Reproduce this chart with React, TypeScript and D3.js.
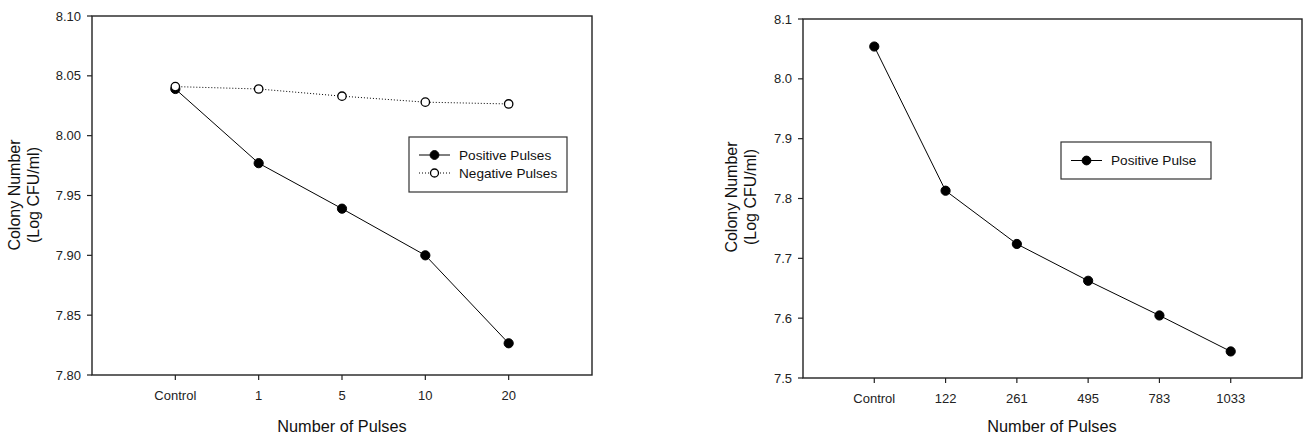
import React from "react";
import * as d3 from "d3";

const leftCategories = ["Control", "1", "5", "10", "20"];
const positivePulses = [8.039, 7.977, 7.939, 7.9, 7.8265];
const negativePulses = [8.041, 8.039, 8.033, 8.028, 8.0265];
const leftYTicks = [7.8, 7.85, 7.9, 7.95, 8.0, 8.05, 8.1];

const rightCategories = ["Control", "122", "261", "495", "783", "1033"];
const positivePulse = [8.054, 7.813, 7.724, 7.6625, 7.6045, 7.5444];
const rightYTicks = [7.5, 7.6, 7.7, 7.8, 7.9, 8.0, 8.1];

const FONT = "'Liberation Sans', Arial, sans-serif";

type Series = { values: number[]; filled: boolean; dotted: boolean; label: string };

function Panel(props: {
  x0: number; x1: number; y0: number; y1: number;
  categories: string[]; yDomain: [number, number]; yTicks: number[]; yFmt: string;
  series: Series[];
  legend: { x0: number; y0: number; w: number; h: number };
  titleX: number; yTitleX: number; yTitleY: number; yLabelX: number;
}) {
  const { x0, x1, y0, y1, categories, yDomain, yTicks, yFmt, series, legend } = props;
  const x = d3.scaleLinear().domain([-1, categories.length]).range([x0, x1]);
  const y = d3.scaleLinear().domain(yDomain).range([y1, y0]);
  const fmt = d3.format(yFmt);
  const line = d3.line<number>().x((_, i) => x(i)).y((v) => y(v));
  const axisColor = "#222";
  return (
    <g>
      <rect x={x0} y={y0} width={x1 - x0} height={y1 - y0} fill="none" stroke={axisColor} strokeWidth={1.4} />
      {yTicks.map((t) => (
        <g key={t}>
          <line x1={x0 - 5} x2={x0} y1={y(t)} y2={y(t)} stroke={axisColor} strokeWidth={1.2} />
          <text x={props.yLabelX} y={y(t)} dy="0.35em" textAnchor="end" fontSize={13} fill="#222" fontFamily={FONT}>
            {fmt(t)}
          </text>
        </g>
      ))}
      {categories.map((c, i) => (
        <g key={c}>
          <line x1={x(i)} x2={x(i)} y1={y1} y2={y1 + 5} stroke={axisColor} strokeWidth={1.2} />
          <text x={x(i)} y={y1 + 25} textAnchor="middle" fontSize={13} fill="#222" fontFamily={FONT}>
            {c}
          </text>
        </g>
      ))}
      <text x={props.titleX} y={432} textAnchor="middle" fontSize={16.3} fill="#111" fontFamily={FONT}>
        Number of Pulses
      </text>
      <text transform={`translate(${props.yTitleX},${props.yTitleY}) rotate(-90)`} textAnchor="middle" fontSize={16} fill="#111" fontFamily={FONT}>
        <tspan x={0} y={0}>Colony Number</tspan>
        <tspan x={0} y={19}>(Log CFU/ml)</tspan>
      </text>
      {series.map((s, si) => (
        <g key={si}>
          <path d={line(s.values) || ""} fill="none" stroke="#000" strokeWidth={1} strokeDasharray={s.dotted ? "1,2" : undefined} />
          {s.values.map((v, i) => (
            <circle key={i} cx={x(i)} cy={y(v)} r={s.filled ? 4.6 : 4.2} fill={s.filled ? "#000" : "#fff"} stroke="#000" strokeWidth={s.filled ? 1 : 1.3} />
          ))}
        </g>
      ))}
      <rect x={legend.x0} y={legend.y0} width={legend.w} height={legend.h} fill="#fff" stroke="#333" strokeWidth={1.2} />
      {series.map((s, si) => {
        const ly = legend.y0 + (series.length === 1 ? legend.h / 2 : 18 + si * 18);
        const lx = legend.x0 + 10;
        return (
          <g key={si}>
            <line x1={lx} x2={lx + 31} y1={ly} y2={ly} stroke="#000" strokeWidth={1} strokeDasharray={s.dotted ? "1,2" : undefined} />
            <circle cx={lx + 15.5} cy={ly} r={s.filled ? 4.4 : 4} fill={s.filled ? "#000" : "#fff"} stroke="#000" strokeWidth={s.filled ? 1 : 1.3} />
            <text x={lx + 40} y={ly} dy="0.35em" fontSize={13.6} fill="#111" fontFamily={FONT}>
              {s.label}
            </text>
          </g>
        );
      })}
    </g>
  );
}

export default function App() {
  return (
    <svg width={1303} height={440} style={{ position: "absolute", left: 0, top: 0, background: "#fff" }}>
      <rect width={1303} height={440} fill="#fff" />
      <Panel
        x0={92} x1={592} y0={16} y1={375}
        categories={leftCategories} yDomain={[7.8, 8.1]} yTicks={leftYTicks} yFmt=".2f"
        series={[
          { values: positivePulses, filled: true, dotted: false, label: "Positive Pulses" },
          { values: negativePulses, filled: false, dotted: true, label: "Negative Pulses" },
        ]}
        legend={{ x0: 409, y0: 137, w: 158, h: 55 }}
        titleX={342} yTitleX={20} yTitleY={195} yLabelX={81}
      />
      <Panel
        x0={803} x1={1302} y0={19} y1={378}
        categories={rightCategories} yDomain={[7.5, 8.1]} yTicks={rightYTicks} yFmt=".1f"
        series={[{ values: positivePulse, filled: true, dotted: false, label: "Positive Pulse" }]}
        legend={{ x0: 1061, y0: 142, w: 150, h: 37 }}
        titleX={1052} yTitleX={737} yTitleY={197} yLabelX={792}
      />
    </svg>
  );
}
